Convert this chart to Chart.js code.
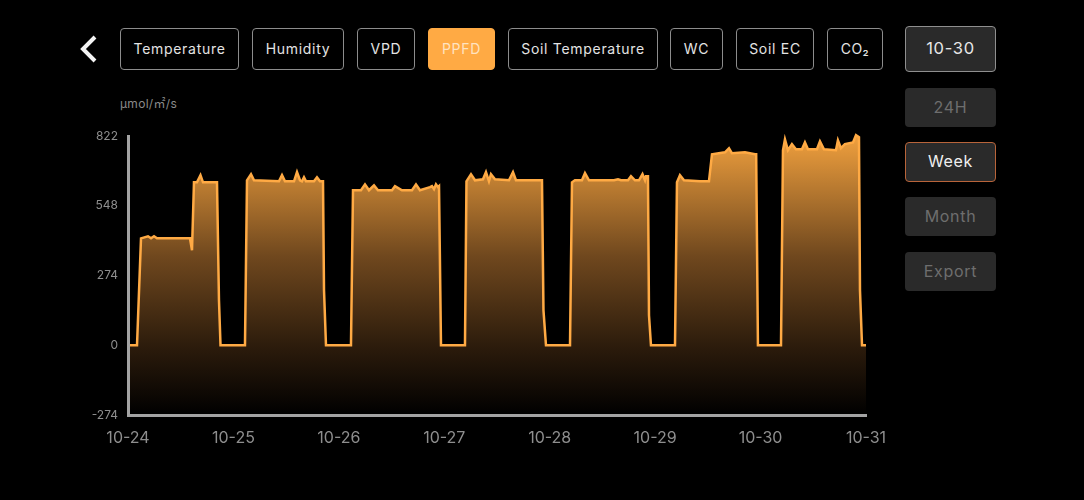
<!DOCTYPE html>
<html>
<head>
<meta charset="utf-8">
<title>PPFD</title>
<script src="https://cdn.jsdelivr.net/npm/chart.js@4"></script>
<style>
    html, body { margin: 0; padding: 0; background: #000; }
    body { width: 1084px; height: 500px; position: relative; overflow: hidden; font-family: Inter, "Noto Sans", sans-serif; }
    #myChart { position: absolute; left: 0; top: 0; }
    .btn { position: absolute; box-sizing: border-box; display: flex; align-items: center; justify-content: center; border-radius: 4px; white-space: nowrap; letter-spacing: 0.7px; padding-bottom: 2px; }
    .tab { top: 28px; height: 42px; border: 1px solid #8c8c8c; color: #e4e4e4; font-size: 14px; }
    .tab.on { background: #ffaa44; border-color: #ffaa44; color: #ffe3c0; }
    .side { left: 905px; width: 91px; background: #2a2a2a; color: #6e6e6e; font-size: 16px; height: 39px; }
    .side.date { top: 26px; height: 46px; border: 1px solid #8f8f8f; color: #e6e6e6; font-size: 16.5px; }
    .side.on { height: 40px; border: 1px solid #b8643a; color: #f0f0f0; }
    #unit { position: absolute; left: 120px; top: 94px; font-size: 12px; letter-spacing: 0.3px; color: #8a8a8a; font-family: Inter, "Noto Sans CJK SC", sans-serif; }
    #back { position: absolute; left: 78px; top: 33px; }
</style>
</head>
<body>
<svg id="back" width="22" height="32"><polyline points="17,4 5,16 17,28" fill="none" stroke="#f4f4f4" stroke-width="4"/></svg>
<div class="btn tab" style="left:120px;width:119px">Temperature</div>
<div class="btn tab" style="left:252px;width:92px">Humidity</div>
<div class="btn tab" style="left:357px;width:58px">VPD</div>
<div class="btn tab on" style="left:428px;width:67px">PPFD</div>
<div class="btn tab" style="left:508px;width:150px">Soil Temperature</div>
<div class="btn tab" style="left:670px;width:53px">WC</div>
<div class="btn tab" style="left:736px;width:78px">Soil EC</div>
<div class="btn tab" style="left:827px;width:56px">CO₂</div>
<div class="btn side date">10-30</div>
<div class="btn side" style="top:88px">24H</div>
<div class="btn side on" style="top:142px">Week</div>
<div class="btn side" style="top:197px">Month</div>
<div class="btn side" style="top:252px">Export</div>
<div id="unit">μmol/㎡/s</div>
<canvas id="myChart" width="1084" height="500" style="width:1084px;height:500px"></canvas>
<script>
// hours since 10-24 00:00
const hours = [
    0, 2.05, 2.96, 4.55, 5.24, 5.92, 6.6, 14.11, 14.57, 15.02, 15.7, 16.5, 17.07, 20.26, 20.71, 21.06,
    26.63, 27.09, 28.0, 28.68, 34.37, 35.06, 35.74, 37.79, 38.47, 39.15, 39.6, 40.06, 40.52, 42.34, 43.02, 43.7, 44.39, 44.62, 45.07,
    50.76, 51.22, 53.04, 53.95, 54.86, 56.0, 56.91, 60.1, 60.78, 62.37, 64.65, 65.56, 66.47, 68.75, 69.2, 69.66, 70.11, 70.57, 70.8, 71.25,
    76.71, 77.05, 78.08, 78.99, 80.81, 81.49, 82.17, 82.63, 83.54, 86.73, 87.64, 88.32, 94.24, 94.58, 95.15,
    100.62, 101.07, 101.75, 103.34, 104.03, 104.94, 110.63, 111.54, 112.22, 113.82, 114.5, 115.41, 116.32, 117.12, 117.69, 117.92, 118.37, 118.6, 119.05,
    124.52, 124.97, 125.65, 126.57, 130.21, 132.25, 132.94, 135.9, 136.81, 137.49, 140.45, 142.73, 143.0, 143.4,
    148.65, 149.1, 149.55, 150.23, 151.14, 152.05, 153.42, 154.1, 154.79, 156.84, 157.52, 158.43, 161.16, 161.61, 162.29, 163.2, 165.04, 165.72, 166.4, 166.63, 167.09, 168
];
const ppfd = [
    0, 0, 420, 428, 420, 428, 420, 420, 373, 640, 640, 668, 640, 640, 177, 0,
    0, 648, 672, 648, 644, 668, 644, 644, 680, 648, 644, 660, 644, 644, 660, 644, 644, 216, 0,
    0, 609, 609, 632, 609, 628, 609, 609, 625, 609, 609, 632, 609, 621, 625, 613, 632, 621, 625, 0,
    0, 644, 672, 648, 652, 680, 644, 672, 652, 648, 680, 648, 648, 137, 0,
    0, 640, 648, 648, 676, 648, 648, 652, 648, 648, 664, 648, 648, 672, 648, 664, 664, 118, 0,
    0, 640, 668, 648, 644, 644, 750, 758, 774, 754, 758, 750, 750, 0,
    0, 766, 809, 766, 790, 770, 770, 797, 770, 770, 801, 770, 766, 805, 774, 790, 797, 825, 817, 216, 0, 0
];
const dayLabels = ['10-24', '10-25', '10-26', '10-27', '10-28', '10-29', '10-30', '10-31'];
const yTicks = [-274, 0, 274, 548, 822];

const axisColor = '#a3a3a3';

function fillGradient(context) {
    const area = context.chart.chartArea;
    if (!area) return 'transparent';
    const g = context.chart.ctx.createLinearGradient(0, area.top, 0, area.bottom);
    g.addColorStop(0, 'rgb(240,160,62)');
    g.addColorStop(0.43, 'rgb(112,72,30)');
    g.addColorStop(0.75, 'rgb(45,28,12)');
    g.addColorStop(1, 'rgb(0,0,0)');
    return g;
}

var ctx = document.getElementById('myChart').getContext('2d');
new Chart(ctx, {
    type: 'line',
    data: {
        datasets: [{
            data: hours.map((h, i) => ({ x: h, y: ppfd[i] })),
            borderColor: '#ffaa44',
            borderWidth: 2.5,
            backgroundColor: fillGradient,
            fill: 'start',
            tension: 0,
            pointRadius: 0,
            clip: false
        }]
    },
    options: {
        responsive: false,
        animation: false,
        layout: { padding: { top: 136, right: 218, left: 0, bottom: 0 } },
        plugins: { legend: { display: false }, tooltip: { enabled: false } },
        scales: {
            x: {
                type: 'linear',
                min: 0,
                max: 168,
                afterFit: function (scale) { scale.height = 85; },
                grid: { display: false },
                border: { color: axisColor, width: 3, z: 2 },
                ticks: {
                    stepSize: 24,
                    autoSkip: false,
                    maxRotation: 0,
                    padding: 6,
                    color: '#8e8e8e',
                    font: { family: 'Inter', size: 16 },
                    callback: function (value) { return dayLabels[value / 24]; }
                }
            },
            y: {
                min: yTicks[0],
                max: yTicks[yTicks.length - 1],
                afterFit: function (scale) { scale.width = 128; },
                grid: { display: false },
                border: { color: axisColor, width: 3, z: 2 },
                ticks: {
                    stepSize: 274,
                    padding: 2,
                    color: '#8e8e8e',
                    font: { family: 'Inter', size: 12 }
                }
            }
        }
    }
});
</script>
</body>
</html>
